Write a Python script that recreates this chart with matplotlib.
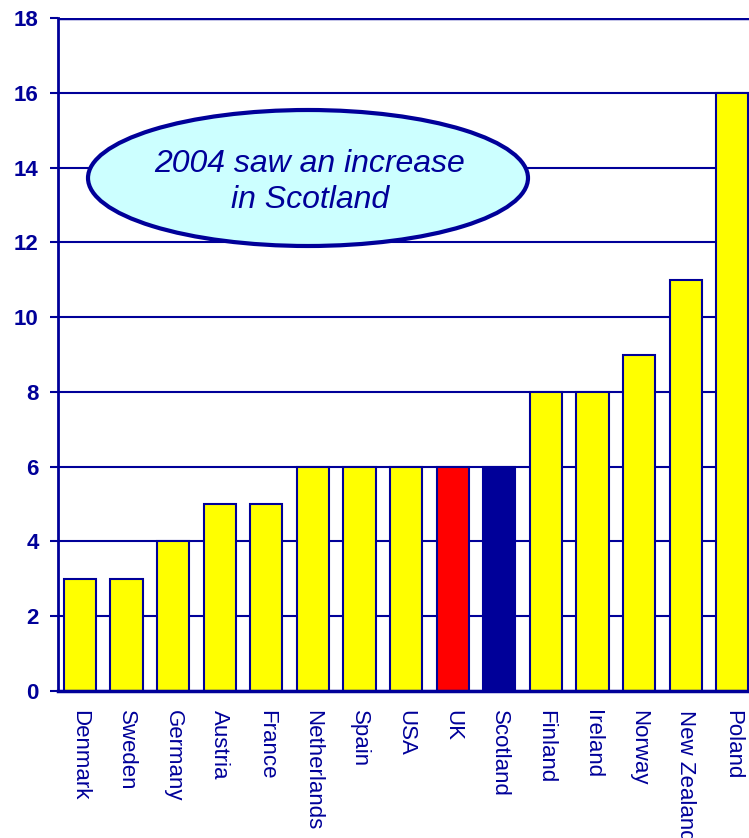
import matplotlib
matplotlib.use("Agg")
import matplotlib.pyplot as plt
from matplotlib.patches import Ellipse

countries = ["Denmark", "Sweden", "Germany", "Austria", "France", "Netherlands",
             "Spain", "USA", "UK", "Scotland", "Finland", "Ireland", "Norway",
             "New Zealand", "Poland"]
values = [3, 3, 4, 5, 5, 6, 6, 6, 6, 6, 8, 8, 9, 11, 16]
yticks = [0, 2, 4, 6, 8, 10, 12, 14, 16, 18]

NAVY = "#000099"
colors = ["#FFFF00"] * len(countries)
colors[countries.index("UK")] = "#FF0000"
colors[countries.index("Scotland")] = NAVY

plt.rcParams["font.family"] = ["Liberation Sans", "DejaVu Sans"]

fig = plt.figure(figsize=(7.49, 8.38), dpi=100)
W, H = 749, 838
ax = fig.add_axes([58 / W, 1 - 691 / H, 1 - 58 / W, (691 - 18) / H])

x = list(range(len(countries)))
ax.set_axisbelow(True)
ax.bar(x, values, width=0.69, color=colors, edgecolor=NAVY, linewidth=1.5, zorder=2)

ax.set_xlim(-0.47, 14.36)
ax.set_ylim(0, 18)
ax.set_yticks(yticks)
ax.set_yticklabels([str(t) for t in yticks], fontsize=16, fontweight="bold", color=NAVY)
ax.yaxis.grid(True, color=NAVY, linewidth=1.5)
ax.tick_params(axis="y", direction="out", length=6, width=1.5, color=NAVY, pad=8)
ax.set_xticks(x)
ax.set_xticklabels(countries, rotation=-90, fontsize=16, color=NAVY, va="top", ha="center")
ax.tick_params(axis="x", length=0, pad=14)
ax.axhline(18, color=NAVY, linewidth=2.5, zorder=1)

for s in ["top", "right"]:
    ax.spines[s].set_visible(False)
ax.spines["left"].set_color(NAVY)
ax.spines["left"].set_linewidth(2)
ax.spines["bottom"].set_color(NAVY)
ax.spines["bottom"].set_linewidth(2.5)

ell = Ellipse((308 / W, 1 - 178 / H), 440 / W, 136 / H, transform=fig.transFigure,
              facecolor="#CCFFFF", edgecolor=NAVY, linewidth=3, zorder=5)
fig.patches.append(ell)
fig.text(310 / W, 1 - 182 / H, "2004 saw an increase\nin Scotland", transform=fig.transFigure,
         ha="center", va="center", fontsize=23, fontstyle="italic", color=NAVY,
         linespacing=1.25, zorder=6)

fig.savefig("out.png", dpi=100)
